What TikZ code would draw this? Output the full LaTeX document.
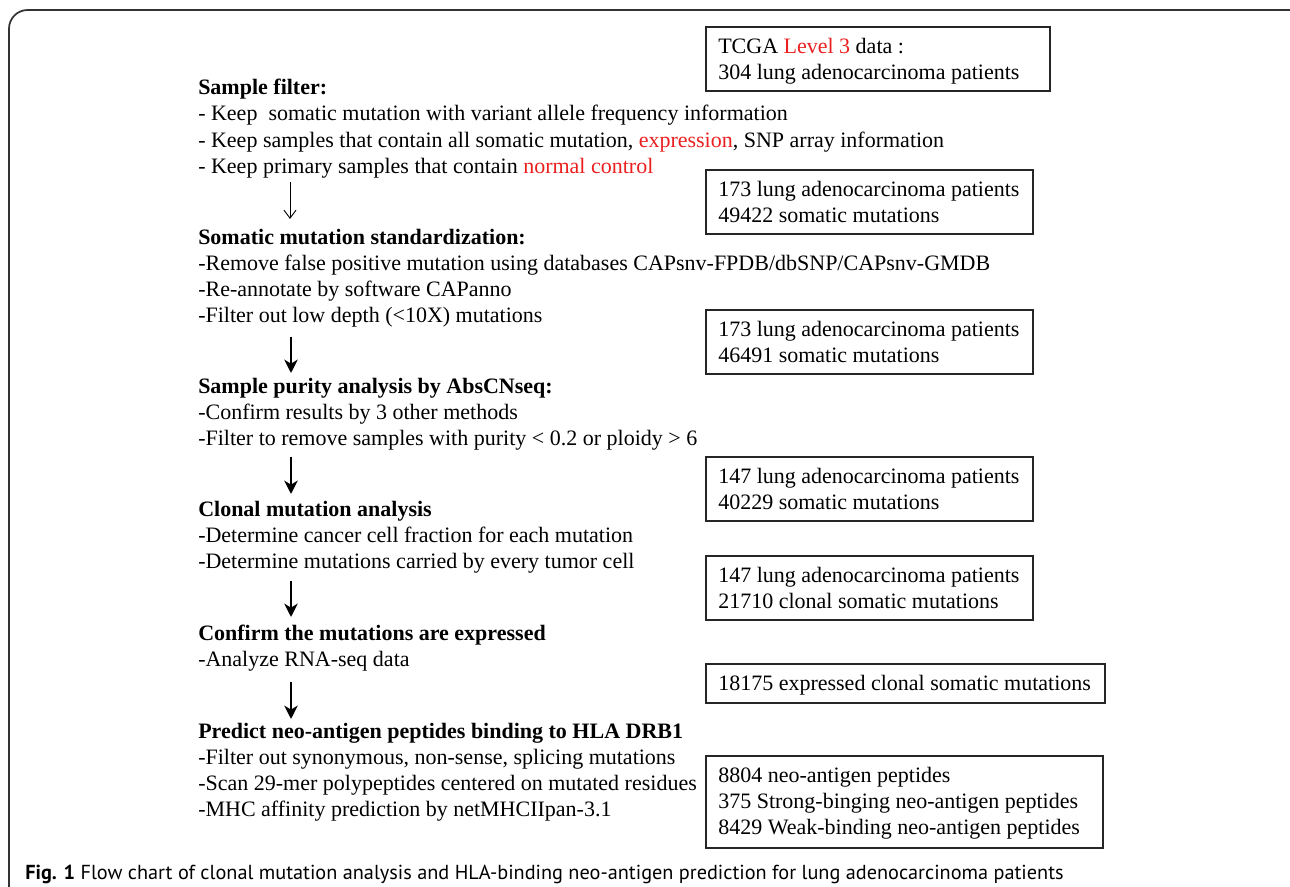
\documentclass[tikz,border=0pt]{standalone}
\usepackage{fontspec}
\setmainfont{Liberation Serif}
\newfontfamily\capfont{PT Sans}
\usetikzlibrary{arrows.meta}
\definecolor{hl}{rgb}{0.92,0.12,0.12}
\definecolor{framec}{rgb}{0.2,0.2,0.2}
\begin{document}
\begin{tikzpicture}[x=0.75pt,y=-0.75pt,
  ln/.style={anchor=base west,inner sep=0pt,font=\fontsize{16.5}{19}\selectfont},
  hd/.style={ln,font=\fontsize{16.5}{19}\selectfont\bfseries},
  rbox/.style={draw=black!85,line width=1pt},
  thinarrow/.style={-{Straight Barb[length=6pt,width=9pt,line width=0.7pt]},line width=0.7pt},
  thickarrow/.style={-{Stealth[length=10pt,width=10pt,inset=3pt]},line width=2.2pt}]
\useasboundingbox (0,0) rectangle (1290,887);
\begin{scope}
\clip (0,0) rectangle (1290,887);
\draw[framec,line width=1.3pt,rounded corners=14pt] (9,10) rectangle (1310,930);
\end{scope}

% left column (y = baseline)
\node[hd] (h1) at (198,94.5) {Sample filter:};
\node[ln] (l11) at (198,120.5) {- Keep\ \ somatic mutation with variant allele frequency information};
\node[ln] (l12) at (198,147.5) {- Keep samples that contain all somatic mutation, \textcolor{hl}{expression}, SNP array information};
\node[ln] (l13) at (198,173.5) {- Keep primary samples that contain \textcolor{hl}{normal control}};

\node[hd] (h2) at (198,244.5) {Somatic mutation standardization:};
\node[ln] (l21) at (198,270.5) {-Remove false positive mutation using databases CAPsnv-FPDB/dbSNP/CAPsnv-GMDB};
\node[ln] (l22) at (198,296.5) {-Re-annotate by software CAPanno};
\node[ln] (l23) at (198,322.5) {-Filter out low depth (<10X) mutations};

\node[hd] (h3) at (198,393.5) {Sample purity analysis by AbsCNseq:};
\node[ln] (l31) at (198,419.5) {-Confirm results by 3 other methods};
\node[ln] (l32) at (198,445.5) {-Filter to remove samples with purity < 0.2 or ploidy > 6};

\node[hd] (h4) at (198,516.5) {Clonal mutation analysis};
\node[ln] (l41) at (198,542.5) {-Determine cancer cell fraction for each mutation};
\node[ln] (l42) at (198,568.5) {-Determine mutations carried by every tumor cell};

\node[hd] (h5) at (198,640.5) {Confirm the mutations are expressed};
\node[ln] (l51) at (198,666.5) {-Analyze RNA-seq data};

\node[hd] (h6) at (198,738.5) {Predict neo-antigen peptides binding to HLA DRB1};
\node[ln] (l61) at (198,764.5) {-Filter out synonymous, non-sense, splicing mutations};
\node[ln] (l62) at (198,790.5) {-Scan 29-mer polypeptides centered on mutated residues};
\node[ln] (l63) at (198,816.5) {-MHC affinity prediction by netMHCIIpan-3.1};

% arrows
\coordinate (a1s) at (290,182); \coordinate (a1e) at (290,219);
\coordinate (a2s) at (291,337); \coordinate (a2e) at (291,373);
\coordinate (a3s) at (291,457); \coordinate (a3e) at (291,494);
\coordinate (a4s) at (291,581); \coordinate (a4e) at (291,617);
\coordinate (a5s) at (291,682); \coordinate (a5e) at (291,719);
\draw[thinarrow] (a1s) -- (a1e);
\draw[thickarrow] (a2s) -- (a2e);
\draw[thickarrow] (a3s) -- (a3e);
\draw[thickarrow] (a4s) -- (a4e);
\draw[thickarrow] (a5s) -- (a5e);

% right boxes
\draw[rbox] (706,27) rectangle (1050,91);
\node[ln] (b11) at (718,53.5) {TCGA \textcolor{hl}{Level 3} data :};
\node[ln] (b12) at (718,79.5) {304 lung adenocarcinoma patients};

\draw[rbox] (706,170) rectangle (1033,234);
\node[ln] (b21) at (718,196.5) {173 lung adenocarcinoma patients};
\node[ln] (b22) at (718,222.5) {49422 somatic mutations};

\draw[rbox] (706,310) rectangle (1033,374);
\node[ln] (b31) at (718,336.5) {173 lung adenocarcinoma patients};
\node[ln] (b32) at (718,362.5) {46491 somatic mutations};

\draw[rbox] (706,457) rectangle (1033,521);
\node[ln] (b41) at (718,483.5) {147 lung adenocarcinoma patients};
\node[ln] (b42) at (718,509.5) {40229 somatic mutations};

\draw[rbox] (706,556) rectangle (1033,620);
\node[ln] (b51) at (718,582.5) {147 lung adenocarcinoma patients};
\node[ln] (b52) at (718,608.5) {21710 clonal somatic mutations};

\draw[rbox] (706,664) rectangle (1105,703);
\node[ln] (b61) at (718,690.5) {18175 expressed clonal somatic mutations};

\draw[rbox] (706,756) rectangle (1103,848);
\node[ln] (b71) at (718,782.5) {8804 neo-antigen peptides};
\node[ln] (b72) at (718,808.5) {375 Strong-binging neo-antigen peptides};
\node[ln] (b73) at (718,834.5) {8429 Weak-binding neo-antigen peptides};

% caption
\node[anchor=base west,inner sep=0pt,font=\capfont\fontsize{15.2}{17}\selectfont] (cap) at (25,879) {\textbf{Fig. 1} Flow chart of clonal mutation analysis and HLA-binding neo-antigen prediction for lung adenocarcinoma patients};
\end{tikzpicture}
\end{document}
